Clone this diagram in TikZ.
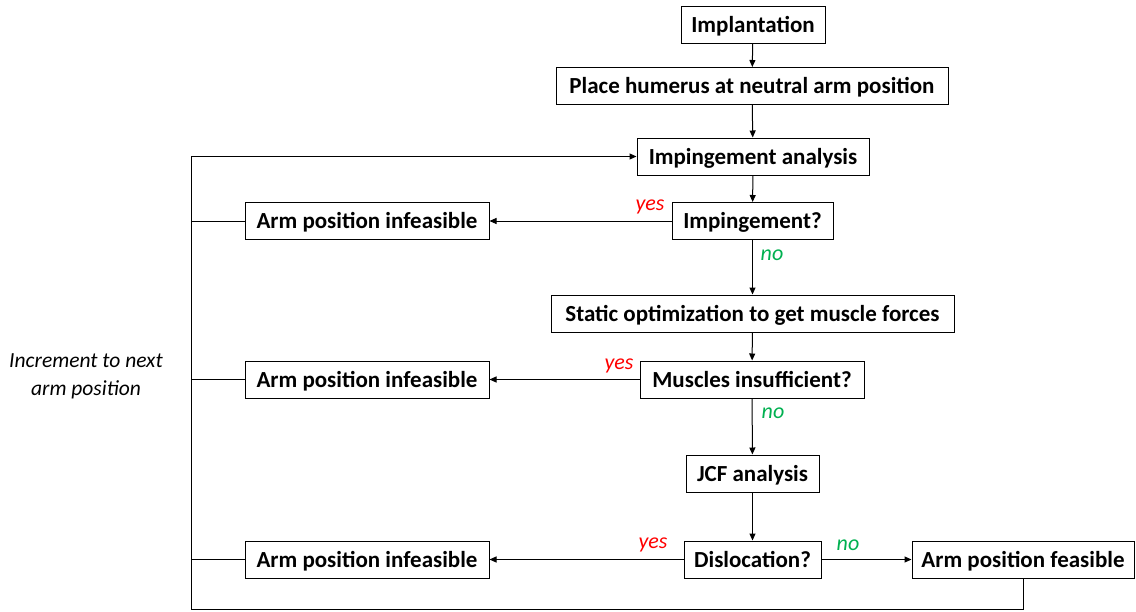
\documentclass[tikz,border=0pt]{standalone}
\usepackage{fontspec}
\setmainfont{Carlito}
\usetikzlibrary{arrows.meta}
\definecolor{yesred}{HTML}{FF0000}
\definecolor{nogreen}{HTML}{00B050}
\tikzset{
  box/.style={draw=black, line width=1pt, fill=white, inner sep=0pt, minimum height=37pt, text height=17pt, text depth=2pt, font=\fontsize{23}{27}\selectfont\bfseries},
  conn/.style={line width=1pt, draw=black},
  arr/.style={conn, -{Triangle[length=7pt,width=6pt]}},
  yeslab/.style={text=yesred, font=\fontsize{22}{27}\selectfont\itshape, inner sep=0pt},
  nolab/.style={text=nogreen, font=\fontsize{22}{27}\selectfont\itshape, inner sep=0pt},
  side/.style={font=\fontsize{21.5}{28}\selectfont\itshape, align=center, inner sep=0pt}
}
\begin{document}
\begin{tikzpicture}[x=1pt,y=-1pt]
\useasboundingbox (0,0) rectangle (1136,611);
\node[box, minimum width=144pt] (impl) at (753,24.5) {Implantation};
\node[box, minimum width=392pt] (place) at (752,86) {Place humerus at neutral arm position};
\node[box, minimum width=232pt] (anal) at (753,156.5) {Impingement analysis};
\node[box, minimum width=161pt] (imp) at (752.5,221) {Impingement?};
\node[box, minimum width=403pt] (stat) at (752.5,313.5) {Static optimization to get muscle forces};
\node[box, minimum width=224pt] (musc) at (752,379.5) {Muscles insufficient?};
\node[box, minimum width=133pt] (jcf) at (752.5,473.5) {JCF analysis};
\node[box, minimum width=137pt] (disl) at (752.5,559.5) {Dislocation?};
\node[box, minimum width=244pt] (inf1) at (367,221) {Arm position infeasible};
\node[box, minimum width=244pt] (inf2) at (367,379.5) {Arm position infeasible};
\node[box, minimum width=244pt] (inf3) at (367,559.5) {Arm position infeasible};
\node[box, minimum width=222pt] (feas) at (1023,559.5) {Arm position feasible};
\coordinate (bl) at (191,609);
\node[side] (incr) at (86,376) {Increment to next\\arm position};
\draw[arr] (impl) -- (place);
\draw[arr] (place) -- (anal);
\draw[arr] (anal) -- (imp);
\draw[arr] (imp) -- (inf1);
\draw[arr] (imp) -- (stat);
\draw[arr] (stat) -- (musc);
\draw[arr] (musc) -- (inf2);
\draw[arr] (musc) -- (jcf);
\draw[arr] (jcf) -- (disl);
\draw[arr] (disl) -- (inf3);
\draw[arr] (disl) -- (feas);
\draw[conn] (inf1.west) -- (inf1.west -| bl);
\draw[conn] (inf2.west) -- (inf2.west -| bl);
\draw[conn] (inf3.west) -- (inf3.west -| bl);
\draw[arr] (feas.south) -- (feas.south |- bl) -- (bl) -- (bl |- anal.west) -- (anal.west);
\node[yeslab] (y1) at (650,207) {yes};
\node[nolab] (n1) at (772,255) {no};
\node[yeslab] (y2) at (619,366) {yes};
\node[nolab] (n2) at (773,413) {no};
\node[yeslab] (y3) at (653,545) {yes};
\node[nolab] (n3) at (848,545) {no};
\end{tikzpicture}
\end{document}
